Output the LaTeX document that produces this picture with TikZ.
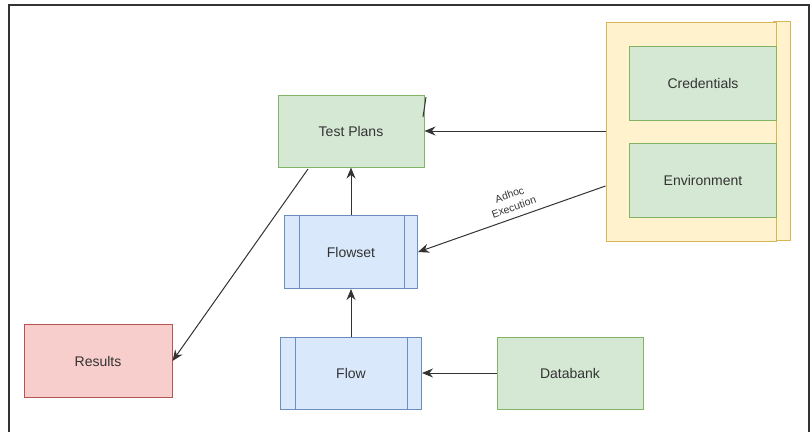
\documentclass[tikz,border=0pt]{standalone}
\usepackage{fontspec}
\setmainfont{Liberation Sans}
\usepackage{tikz}
\usetikzlibrary{arrows.meta}

\definecolor{gfill}{HTML}{D5E8D4}
\definecolor{gline}{HTML}{82B366}
\definecolor{bfill}{HTML}{DAE8FC}
\definecolor{bline}{HTML}{6C8EBF}
\definecolor{rfill}{HTML}{F8CECC}
\definecolor{rline}{HTML}{B85450}
\definecolor{yfill}{HTML}{FFF2CC}
\definecolor{yline}{HTML}{D6B656}
\definecolor{ink}{HTML}{333333}

\tikzset{
  box/.style={draw, line width=1pt, minimum width=146pt, minimum height=72pt,
    font=\fontsize{14}{16}\selectfont, text=ink},
  greenbox/.style={box, fill=gfill, draw=gline},
  bluebox/.style={box, fill=bfill, draw=bline},
  redbox/.style={box, fill=rfill, draw=rline},
  link/.style={draw=ink, line width=1pt, -{Stealth[length=11pt,width=9pt]}}
}

\begin{document}
\begin{tikzpicture}[x=1pt, y=-1pt]
    \useasboundingbox (0,0) rectangle (811,432);
    \draw[ink, line width=2pt] (9,432) -- (9,5) -- (809,5) -- (809,432);

    % container with credentials and environment
    \draw[yline, fill=yfill, line width=1pt] (773,21) rectangle (790,240);
    \node[draw=yline, fill=yfill, line width=1pt, minimum width=170pt,
      minimum height=219pt] at (691,132) (env) {};
    \node[greenbox, minimum width=147pt, minimum height=74pt] at (703,83) (cred) {Credentials};
    \node[greenbox, minimum width=147pt, minimum height=74pt] at (703,180) (envi) {Environment};

    \node[greenbox] at (351,131) (plans) {Test Plans};
    \node[bluebox, minimum width=133pt, minimum height=73pt] at (351,252) (fs) {Flowset};
    \node[bluebox, minimum width=141pt] at (351,373) (flow) {Flow};
    \node[redbox, minimum width=148pt, minimum height=73pt] at (98,361) (res) {Results};
    \node[greenbox] at (570,373) (bank) {Databank};

    \draw[bline, line width=1pt] ([xshift=15pt]fs.north west) -- ([xshift=15pt]fs.south west);
    \draw[bline, line width=1pt] ([xshift=-14pt]fs.north east) -- ([xshift=-14pt]fs.south east);
    \draw[bline, line width=1pt] ([xshift=15pt]flow.north west) -- ([xshift=15pt]flow.south west);
    \draw[bline, line width=1pt] ([xshift=-15pt]flow.north east) -- ([xshift=-15pt]flow.south east);

    \coordinate (c1) at (env.west |- plans.east);
    \coordinate (c2) at ([yshift=-55pt]env.west |- plans.east);
    \coordinate (t) at (308,169);
    \coordinate (k1) at (426,97);
    \coordinate (k2) at (423,117);

    \draw[link] (c1) -- (plans.east);
    \draw[link] (c2) -- (fs.east)
      node[pos=0.47, above=3pt, sloped, align=center, text=ink,
        font=\fontsize{10.5}{13}\selectfont] {Adhoc\\Execution};
    \draw[link] (fs.north) -- (plans.south);
    \draw[link] (flow.north) -- (fs.south);
    \draw[link] (bank.west) -- (flow.east);
    \draw[link] (t) -- (res.east);
    \draw[ink, line width=1pt] (k1) -- (k2);
\end{tikzpicture}
\end{document}
